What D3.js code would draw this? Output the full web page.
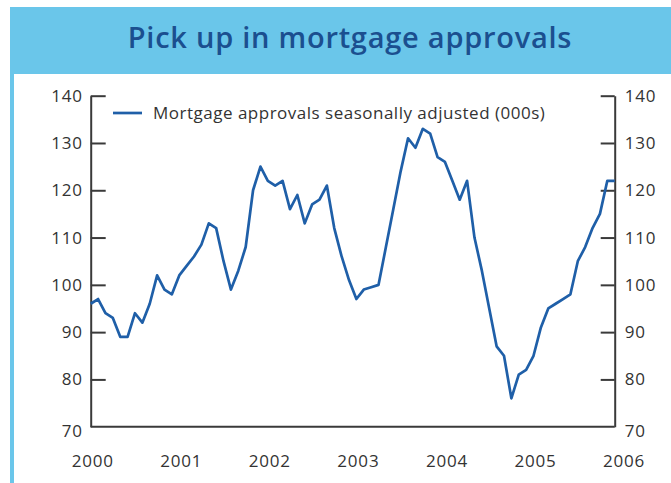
<!DOCTYPE html>
<html>
<head>
<meta charset="utf-8">
<script src="https://cdn.jsdelivr.net/npm/d3@7"></script>
<style>
  html, body { margin: 0; padding: 0; background: #fff; }
  svg { display: block; }
</style>
</head>
<body>
<svg id="chart" width="671" height="483"></svg>
<script>
// Monthly mortgage approvals, seasonally adjusted (thousands), Jan 2000 – Dec 2005
const approvals = [
  96, 97, 94, 93, 89, 89, 94, 92, 96, 102, 99, 98,          // 2000
  102, 104, 106, 108.5, 113, 112, 105, 99, 103, 108, 120, 125, // 2001
  122, 121, 122, 116, 119, 113, 117, 118, 121, 112, 106, 101,  // 2002
  97, 99, 99.5, 100, 108, 116, 124, 131, 129, 133, 132, 127,   // 2003
  126, 122, 118, 122, 110, 103, 95, 87, 85, 76, 81, 82,        // 2004
  85, 91, 95, 96, 97, 98, 105, 108, 112, 115, 122, 122         // 2005
];
const yearLabels = ["2000", "2001", "2002", "2003", "2004", "2005", "2006"];
const yTicks = [70, 80, 90, 100, 110, 120, 130, 140];
const titleText = "Pick up in mortgage approvals";
const legendText = "Mortgage approvals seasonally adjusted (000s)";

const svg = d3.select("#chart");
const W = 671, H = 483;

const blue = "#6ac6ea";
const lineBlue = "#1f5fa8";
const ink = "#333333";
const axisInk = "#3a3a3a";
const fontFamily = "'Open Sans', sans-serif";

// Framing band with title
svg.append("rect").attr("x", 10).attr("y", 7).attr("width", W - 10).attr("height", 67).attr("fill", blue);
svg.append("rect").attr("x", 10).attr("y", 7).attr("width", 4).attr("height", H - 7).attr("fill", blue);

svg.append("text")
  .attr("x", 350).attr("y", 48)
  .attr("text-anchor", "middle")
  .attr("font-family", fontFamily)
  .attr("font-weight", 600)
  .attr("font-size", 29)
  .attr("letter-spacing", 0.75)
  .attr("fill", "#1b4f8f")
  .text(titleText);

// Plot area
const plotLeft = 90.7, plotRight = 614.7, plotTop = 95.7, plotBottom = 426.7;

const x = d3.scaleLinear().domain([0, approvals.length - 1]).range([plotLeft, plotRight]);
const y = d3.scaleLinear().domain([70, 140]).range([plotBottom, plotTop]);

const tickSize = 17, tickSpacing = 0.8;

// Left axis: ticks pointing into the plot
const leftAxis = d3.axisLeft(y).tickValues(yTicks).tickSizeInner(-15).tickSizeOuter(0).tickPadding(8);
const gL = svg.append("g").attr("transform", `translate(${plotLeft},0)`).call(leftAxis);

// Right axis: ticks pointing into the plot
const rightAxis = d3.axisRight(y).tickValues(yTicks).tickSizeInner(-14).tickSizeOuter(0).tickPadding(10);
const gR = svg.append("g").attr("transform", `translate(${plotRight},0)`).call(rightAxis);

[gL, gR].forEach(g => {
  g.select(".domain").attr("stroke", axisInk).attr("stroke-width", 2);
  g.selectAll(".tick line").attr("stroke", axisInk).attr("stroke-width", 2);
  g.selectAll(".tick line").filter(d => d === 70).remove();
  g.selectAll(".tick text")
    .attr("font-family", fontFamily)
    .attr("font-size", tickSize)
    .attr("letter-spacing", tickSpacing)
    .attr("fill", ink);
  g.selectAll(".tick text").filter(d => d === 70).attr("dy", "0.55em");
});

// Bottom baseline
svg.append("line")
  .attr("x1", plotLeft).attr("x2", plotRight)
  .attr("y1", plotBottom).attr("y2", plotBottom)
  .attr("stroke", axisInk).attr("stroke-width", 2);

// Year labels at each January
svg.append("g").selectAll("text")
  .data(yearLabels)
  .join("text")
  .attr("x", (d, i) => x(i * 12) + 2)
  .attr("y", 467)
  .attr("text-anchor", "middle")
  .attr("font-family", fontFamily)
  .attr("font-size", tickSize)
  .attr("letter-spacing", tickSpacing)
  .attr("fill", ink)
  .text(d => d);

// Series line
const line = d3.line()
  .x((d, i) => x(i))
  .y(d => y(d));

svg.append("path")
  .datum(approvals)
  .attr("d", line)
  .attr("fill", "none")
  .attr("stroke", lineBlue)
  .attr("stroke-width", 2.7)
  .attr("stroke-linejoin", "round");

// Legend
svg.append("line")
  .attr("x1", 113).attr("x2", 142)
  .attr("y1", 113).attr("y2", 113)
  .attr("stroke", lineBlue).attr("stroke-width", 2.7);
svg.append("text")
  .attr("x", 153).attr("y", 118.5)
  .attr("font-family", fontFamily)
  .attr("font-size", 17)
  .attr("letter-spacing", 0.5)
  .attr("fill", ink)
  .text(legendText);
</script>
</body>
</html>
